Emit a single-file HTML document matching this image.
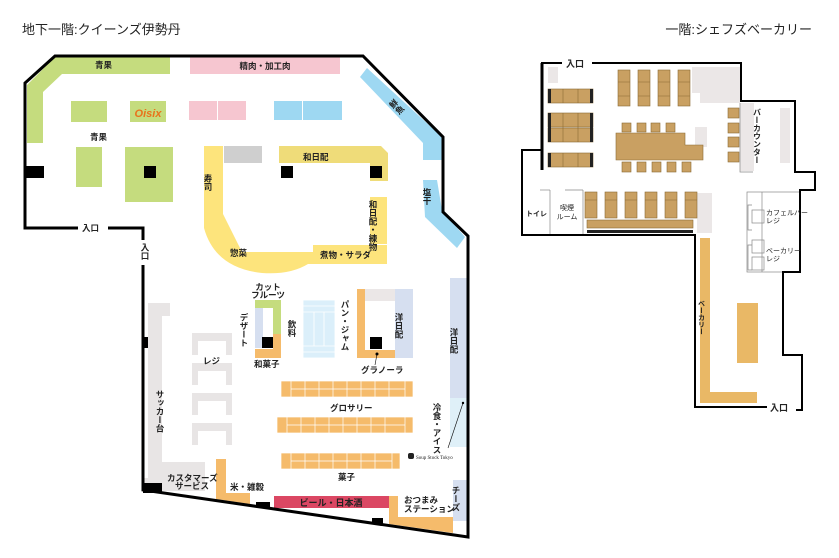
<!DOCTYPE html>
<html><head><meta charset="utf-8"><style>
body{margin:0;background:#fff}
svg{display:block}
text{font-family:"Liberation Sans","Noto Sans CJK JP",sans-serif;fill:#222}
.l{font-size:8.5px;font-weight:bold}
.v{writing-mode:vertical-rl;font-size:8.5px;font-weight:bold}
.s{font-size:7px}
</style></head><body>
<svg width="839" height="558" viewBox="0 0 839 558" xmlns="http://www.w3.org/2000/svg">
<text x="22" y="34" style="font-size:13px">地下一階:クイーンズ伊勢丹</text>
<text x="812" y="34" text-anchor="end" style="font-size:13px">一階:シェフズベーカリー</text>

<!-- LEFT FLOOR -->
<!-- green -->
<polygon points="55,57 170,57 170,74 62,74 43,92 43,143 27,143 27,85" fill="#c5dc7e"/>
<rect x="71" y="101" width="36" height="21" fill="#c5dc7e"/>
<rect x="130" y="101" width="36" height="21" fill="#c5dc7e"/>
<text x="148" y="117" text-anchor="middle" style="font-size:11px;font-weight:bold;fill:#e8731c;font-style:italic">Oisix</text>
<rect x="76" y="147" width="26" height="40" fill="#c5dc7e"/>
<rect x="125" y="147" width="48" height="55" fill="#c5dc7e"/>
<!-- pink -->
<rect x="190" y="57" width="150" height="17" fill="#f6c6d0"/>
<rect x="189" y="101" width="28" height="19" fill="#f6c6d0"/>
<rect x="218" y="101" width="28" height="19" fill="#f6c6d0"/>
<!-- blue -->
<rect x="274" y="101" width="28" height="19" fill="#9ed8f2"/>
<rect x="303" y="101" width="39" height="19" fill="#9ed8f2"/>
<polygon points="360,77 367,68 442,137 442,160 423,160 423,143" fill="#9ed8f2"/>
<polygon points="423,180 437,180 442,210 465,237 457,248 425,217" fill="#9ed8f2"/>
<!-- yellow -->
<path d="M204,146 H223 V214 L242,252 H313 L313,245 H387 V264 H308 Q290,275 262,273 Q215,268 204,228 Z" fill="#fde47c"/>
<rect x="370" y="197" width="17" height="47" fill="#fde47c"/>
<polygon points="279,146 381,146 388,153 388,181 370,181 370,163 279,163" fill="#efdc79"/>
<rect x="224" y="146" width="38" height="17" fill="#cfcfcf"/>
<!-- pillars -->
<rect x="26" y="166" width="18" height="12" fill="#000"/>
<rect x="144" y="166" width="12" height="12" fill="#000"/>
<rect x="281" y="166" width="12" height="12" fill="#000"/>
<rect x="370" y="166" width="12" height="12" fill="#000"/>
<rect x="143" y="337" width="10" height="11" fill="#000"/>

<!-- gray sakka -->
<rect x="148" y="303" width="14" height="168" fill="#e8e5e5"/>
<rect x="148" y="303" width="22" height="13" fill="#e8e5e5"/>
<rect x="148" y="462" width="57" height="16" fill="#e8e5e5"/>
<polygon points="143,478 205,478 205,491 143,491" fill="#e8e5e5"/>
<g fill="#e8e5e5">
<path d="M192,333h40v22h-6v-14h-28v14h-6z"/>
<path d="M192,363h40v22h-6v-14h-28v14h-6z"/>
<path d="M192,393h40v22h-6v-14h-28v14h-6z"/>
<path d="M192,423h40v22h-6v-14h-28v14h-6z"/>
</g>
<!-- cut fruit -->
<rect x="255" y="300" width="26" height="8" fill="#c5dc7e"/>
<rect x="273" y="300" width="8" height="34" fill="#c5dc7e"/>
<rect x="255" y="308" width="8" height="40" fill="#d6dff0"/>
<rect x="273" y="334" width="8" height="24" fill="#f5bb6b"/>
<rect x="255" y="349" width="26" height="9" fill="#f5bb6b"/>
<rect x="262" y="337" width="11" height="11" fill="#000"/>
<!-- drinks -->
<g fill="#dbeffa" stroke="#fff" stroke-width="0.8">
<rect x="303" y="300" width="32" height="58"/>
<line x1="303" y1="306" x2="335" y2="306"/><line x1="303" y1="312" x2="335" y2="312"/>
<line x1="303" y1="346" x2="335" y2="346"/><line x1="303" y1="352" x2="335" y2="352"/>
<line x1="314" y1="312" x2="314" y2="346"/><line x1="324" y1="312" x2="324" y2="346"/>
</g>
<!-- pan -->
<rect x="357" y="289" width="8" height="69" fill="#f5bb6b"/>
<rect x="357" y="350" width="38" height="8" fill="#f5bb6b"/>
<rect x="365" y="289" width="30" height="12" fill="#ebe7e7"/>
<rect x="395" y="289" width="18" height="69" fill="#d6dff0"/>
<rect x="370" y="337" width="12" height="12" fill="#000"/>
<circle cx="377" cy="354" r="1.5" fill="#000"/><line x1="377" y1="354" x2="375" y2="365" stroke="#000" stroke-width="0.6"/>
<!-- right wall units -->
<rect x="450" y="278" width="18" height="120" fill="#d6dff0"/>
<rect x="450" y="398" width="18" height="49" fill="#dff0f8"/>
<circle cx="463" cy="403" r="1.2" fill="#000"/><line x1="463" y1="403" x2="448" y2="448" stroke="#000" stroke-width="0.6"/>
<rect x="453" y="480" width="14" height="41" fill="#d6dff0"/>
<!-- grocery -->
<g fill="#f5bb6b" stroke="#fff" stroke-width="0.7">
<rect x="281" y="381" width="132" height="16"/>
<rect x="277" y="417" width="136" height="16"/>
<rect x="281" y="453" width="119" height="16"/>
</g>
<g stroke="#fff" stroke-width="0.7">
<line x1="291" y1="389" x2="405" y2="389"/><line x1="287" y1="425" x2="405" y2="425"/><line x1="291" y1="461" x2="392" y2="461"/>
<path d="M291,381v16M305,381v16M319,381v16M333,381v16M347,381v16M361,381v16M375,381v16M389,381v16M405,381v16"/>
<path d="M287,417v16M301,417v16M315,417v16M329,417v16M343,417v16M357,417v16M371,417v16M385,417v16M405,417v16"/>
<path d="M291,453v16M305,453v16M319,453v16M333,453v16M347,453v16M361,453v16M375,453v16M392,453v16"/>
</g>
<!-- bottom -->
<polygon points="216,459 226,459 226,493 250,493 250,504 216,499" fill="#f5bb6b"/>
<rect x="274" y="496" width="115" height="12" fill="#db4763"/>
<polygon points="389,496 398,496 398,517 453,517 453,533 389,524" fill="#f5bb6b"/>
<rect x="143" y="483" width="19" height="10" fill="#000"/>
<polygon points="256,502 270,502 270,509 256,507" fill="#000"/>
<polygon points="372,518 383,518 383,525 372,523" fill="#000"/>
<rect x="408" y="453" width="6" height="6" rx="2" fill="#222"/>
<text x="416" y="459" style="font-size:5px;font-family:'Liberation Serif',serif">Soup Stock Tokyo</text>

<!-- walls -->
<g fill="none" stroke="#000" stroke-width="3" stroke-linejoin="miter">
<polyline points="78,228 25,228 25,83 55,56 363,56 443,137 443,212 468,236 468,537 143,490 143,265"/>
<polyline points="108,228 143,228 143,240"/>
</g>

<!-- labels left -->
<text x="95" y="68" class="l">青果</text>
<text x="265" y="69" class="l" text-anchor="middle">精肉・加工肉</text>
<text x="90" y="140" class="l">青果</text>
<text x="303" y="160" class="l">和日配</text>
<text x="82" y="231" class="l">入口</text>
<text x="145" y="243" class="v">入口</text>
<text x="392" y="96" class="v" transform="rotate(-45 397 100)">鮮魚</text>
<text x="427" y="188" class="v">塩干</text>
<text x="208" y="174" class="v">寿司</text>
<text x="373" y="200" class="v">和日配・練物</text>
<text x="230" y="256" class="l">惣菜</text>
<text x="320" y="258" class="l">煮物・サラダ</text>
<text x="268" y="290" class="l" text-anchor="middle">カット</text>
<text x="268" y="298" class="l" text-anchor="middle">フルーツ</text>
<text x="244" y="313" class="v">デザート</text>
<text x="254" y="367" class="l">和菓子</text>
<text x="292" y="320" class="v">飲料</text>
<text x="345" y="300" class="v">パン・ジャム</text>
<text x="399" y="313" class="v">洋日配</text>
<text x="454" y="328" class="v">洋日配</text>
<text x="361" y="373" class="l">グラノーラ</text>
<text x="330" y="411" class="l">グロサリー</text>
<text x="437" y="403" class="v">冷食・アイス</text>
<text x="338" y="480" class="l">菓子</text>
<text x="203" y="364" class="l">レジ</text>
<text x="160" y="390" class="v">サッカー台</text>
<text x="167" y="481" class="l">カスタマーズ</text>
<text x="175" y="489" class="l">サービス</text>
<text x="230" y="490" class="l">米・雑穀</text>
<text x="331" y="506" class="l" text-anchor="middle" style="font-size:9px;font-weight:bold;fill:#222">ビール・日本酒</text>
<text x="404" y="503" class="l">おつまみ</text>
<text x="404" y="512" class="l">ステーション</text>
<text x="456" y="486" class="v">チーズ</text>

<!-- RIGHT FLOOR -->
<g fill="#ebe7e7">
<rect x="548" y="67" width="10" height="16"/>
<path d="M692,67h48v36h-40v-10h-8z"/>
<rect x="695" y="127" width="12" height="20"/>
<rect x="697" y="193" width="15" height="40"/>
<rect x="740" y="103" width="14" height="68"/>
<rect x="780" y="108" width="10" height="55"/>
</g>
<g stroke="#888" stroke-width="0.7" fill="none">
<polyline points="740,103 740,172 753,172"/>
<line x1="550" y1="190" x2="550" y2="235"/><line x1="540" y1="190" x2="550" y2="190"/>
<line x1="583" y1="190" x2="583" y2="235"/><line x1="565" y1="190" x2="583" y2="190"/>
<rect x="747" y="192" width="53" height="80"/>
<line x1="762" y1="192" x2="762" y2="272"/>
<rect x="752" y="210" width="12" height="13"/>
<rect x="752" y="240" width="12" height="13"/>
<rect x="752" y="257" width="12" height="13"/>
<path d="M752,205h-4v25h4M752,245h-4v25h4"/>
</g>
<!-- chairs -->
<g fill="#c9a062" stroke="#8a6a35" stroke-width="0.6">
<rect x="618" y="70" width="12" height="36"/><rect x="638" y="70" width="12" height="36"/><rect x="658" y="70" width="12" height="36"/><rect x="678" y="70" width="12" height="36"/>
<rect x="548" y="89" width="45" height="14"/><rect x="548" y="113" width="45" height="14"/><rect x="548" y="128" width="45" height="14"/><rect x="548" y="153" width="45" height="14"/>
<polygon points="616,133 685,133 685,145 703,145 703,160 616,160"/>
<rect x="622" y="123" width="9" height="9"/><rect x="637" y="123" width="9" height="9"/><rect x="651" y="123" width="9" height="9"/><rect x="666" y="123" width="9" height="9"/>
<rect x="622" y="162" width="9" height="10"/><rect x="637" y="162" width="9" height="10"/><rect x="652" y="162" width="9" height="10"/><rect x="667" y="162" width="9" height="10"/><rect x="682" y="162" width="9" height="10"/>
<rect x="728" y="108" width="11" height="10"/><rect x="728" y="123" width="11" height="10"/><rect x="728" y="137" width="11" height="10"/><rect x="728" y="152" width="11" height="10"/>
<rect x="585" y="192" width="12" height="26"/><rect x="605" y="192" width="12" height="26"/><rect x="625" y="192" width="12" height="26"/><rect x="645" y="192" width="12" height="26"/><rect x="665" y="192" width="12" height="26"/><rect x="685" y="192" width="12" height="26"/>
<rect x="587" y="220" width="106" height="8"/>
</g>
<g stroke="#8a6a35" stroke-width="0.6">
<path d="M618,82h12M618,96h12M638,82h12M638,96h12M658,82h12M658,96h12M678,82h12M678,96h12"/>
<path d="M563,89v14M578,89v14M563,113v29M578,113v29M563,153v14M578,153v14M585,200h12M605,200h12M625,200h12M645,200h12M665,200h12M685,200h12"/>
</g>
<g fill="#222">
<rect x="548" y="89" width="3" height="14"/><rect x="590" y="89" width="3" height="14"/>
<rect x="548" y="113" width="3" height="29"/><rect x="590" y="113" width="3" height="29"/>
<rect x="548" y="153" width="3" height="14"/><rect x="590" y="153" width="3" height="14"/>
<rect x="587" y="230" width="106" height="3"/>
</g>
<!-- bakery -->
<rect x="700" y="238" width="10" height="165" fill="#e9b866"/>
<rect x="700" y="392" width="57" height="11" fill="#e9b866"/>
<rect x="737" y="303" width="21" height="60" fill="#e9b866"/>
<!-- walls right -->
<g fill="none" stroke="#000" stroke-width="2">
<polyline points="562,63 542,63 542,170"/>
<polyline points="592,63 741,63 741,101 795,101 795,172 815,172 815,190 800,190 800,272 783,272 783,355 802,355 802,410 796,410"/>
<polyline points="767,407 695,407 695,235 522,235 522,150 542,150"/>
</g>
<line x1="542" y1="63" x2="542" y2="170" stroke="#000" stroke-width="3"/>
<text x="566" y="67" class="l" style="font-size:9px">入口</text>
<text x="770" y="411" class="l" style="font-size:9px">入口</text>
<text x="757" y="108" class="v" style="font-size:8px">バーカウンター</text>
<text x="526" y="216" class="l" style="font-size:7px">トイレ</text>
<text x="567" y="210" class="s" text-anchor="middle">喫煙</text>
<text x="567" y="219" class="s" text-anchor="middle">ルーム</text>
<text x="766" y="215" class="s">カフェルバー</text>
<text x="766" y="223" class="s">レジ</text>
<text x="766" y="253" class="s">ベーカリー</text>
<text x="766" y="261" class="s">レジ</text>
<text x="701" y="300" class="v" style="font-size:7px">ベーカリー</text>
</svg>
</body></html>
